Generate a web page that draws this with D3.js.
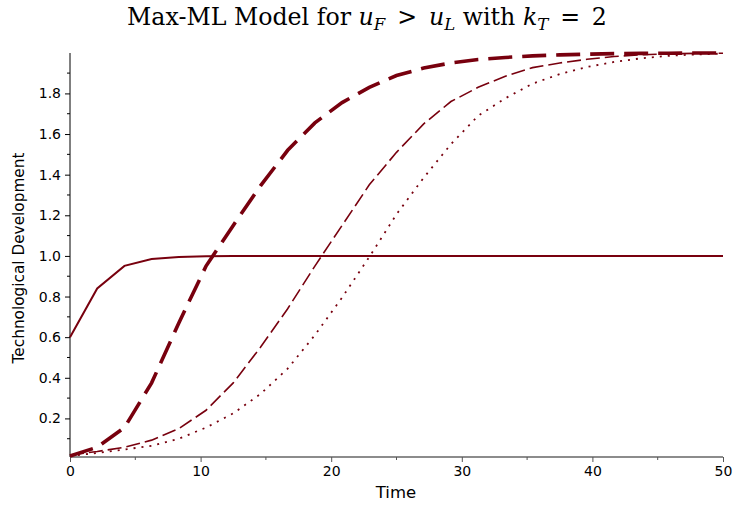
<!DOCTYPE html>
<html><head><meta charset="utf-8">
<script src="https://cdn.jsdelivr.net/npm/d3@7"></script>
<style>body{margin:0;background:#fff;} svg{display:block;}</style>
</head><body>
<svg id="c" width="735" height="505"></svg>
<script>
const times = [0, 2.083, 4.167, 6.25, 8.333, 10.417, 12.5, 14.583, 16.667, 18.75, 20.833, 22.917, 25, 27.083, 29.167, 31.25, 33.333, 35.417, 37.5, 39.583, 41.667, 43.75, 45.833, 47.917, 50];
const solidSeries = [0.6, 0.84, 0.951, 0.985, 0.995, 0.998, 0.9995, 1, 1, 1, 1, 1, 1, 1, 1, 1, 1, 1, 1, 1, 1, 1, 1, 1, 1];
const thickDashSeries = [0.015, 0.058, 0.155, 0.375, 0.67, 0.95, 1.15, 1.345, 1.52, 1.655, 1.755, 1.83, 1.888, 1.925, 1.95, 1.967, 1.977, 1.985, 1.99, 1.993, 1.996, 1.997, 1.998, 1.999, 1.999];
const dashSeries = [0.02, 0.037, 0.058, 0.093, 0.15, 0.24, 0.375, 0.55, 0.74, 0.95, 1.15, 1.35, 1.51, 1.65, 1.76, 1.83, 1.885, 1.927, 1.95, 1.968, 1.982, 1.99, 1.995, 1.997, 1.998];
const dotSeries = [0.015, 0.03, 0.047, 0.065, 0.10, 0.155, 0.225, 0.32, 0.445, 0.61, 0.795, 0.995, 1.205, 1.385, 1.55, 1.69, 1.776, 1.848, 1.895, 1.93, 1.955, 1.973, 1.985, 1.992, 1.996];
const xMajorTicks = [0, 10, 20, 30, 40, 50];
const xMinorTicks = [5, 15, 25, 35, 45];
const yMajorTicks = [0.2, 0.4, 0.6, 0.8, 1.0, 1.2, 1.4, 1.6, 1.8];
const yMinorTicks = [0.1, 0.3, 0.5, 0.7, 0.9, 1.1, 1.3, 1.5, 1.7, 1.9];

const color = "#78000E";
const svg = d3.select("#c");
const x = d3.scaleLinear().domain([0, 50]).range([70, 723]);
const y = d3.scaleLinear().domain([0.01, 1.999]).range([457, 53]);

// title
const title = svg.append("text").attr("x", 367).attr("y", 25)
  .attr("text-anchor", "middle")
  .style("font-family", "'DejaVu Serif', 'Liberation Serif', serif")
  .style("font-size", "20px").style("fill", "#000");
const parts = [
  ["Max-ML Model for ", "normal", 0],
  ["u", "italic", 0], ["F", "italic", 1],
  ["\u2002>\u2002", "normal", -1],
  ["u", "italic", 0], ["L", "italic", 1],
  [" with ", "normal", -1],
  ["k", "italic", 0], ["T", "italic", 1],
  ["\u2002=\u20022", "normal", -1]
];
parts.forEach(p => {
  const t = title.append("tspan").text(p[0]).style("font-style", p[1]);
  if (p[2] === 1) t.attr("dy", 5).style("font-size", "0.7em");
  if (p[2] === -1) t.attr("dy", -5);
});
const tw = title.node().getComputedTextLength();
title.style("font-size", (20 * 480 / tw).toFixed(2) + "px");

// axes
const gx = svg.append("g").attr("transform", "translate(0,457)");
gx.call(d3.axisBottom(x).tickValues(xMajorTicks).tickSize(5).tickPadding(4).tickFormat(d3.format("d")));
gx.append("g").selectAll("line").data(xMinorTicks).join("line")
  .attr("x1", d => x(d)).attr("x2", d => x(d)).attr("y1", 0).attr("y2", 3)
  .attr("stroke", "#555");
gx.select(".domain").attr("stroke", "#666").attr("stroke-width", 1.6).attr("d", `M70,0H723`);
gx.selectAll(".tick line").attr("stroke", "#555");

const gy = svg.append("g").attr("transform", "translate(70,0)");
gy.call(d3.axisLeft(y).tickValues(yMajorTicks).tickSize(5).tickPadding(4).tickFormat(d3.format(".1f")));
gy.append("g").selectAll("line").data(yMinorTicks).join("line")
  .attr("y1", d => y(d)).attr("y2", d => y(d)).attr("x1", 0).attr("x2", -3)
  .attr("stroke", "#000");
gy.select(".domain").attr("stroke", "#000").attr("d", `M0,53V457`);

svg.selectAll(".tick text").style("font-family", "'DejaVu Sans', sans-serif").style("font-size", "14px").style("fill", "#000");

svg.append("text").attr("x", 396).attr("y", 498).attr("text-anchor", "middle")
  .style("font-family", "'DejaVu Sans', sans-serif").style("font-size", "16.5px").text("Time");
svg.append("text").attr("transform", "translate(24,258) rotate(-90)").attr("text-anchor", "middle")
  .style("font-family", "'DejaVu Sans', sans-serif").style("font-size", "15.3px").text("Technological Development");

// lines
const line = d3.line().x((d, i) => x(times[i])).y(d => y(d));
const styles = [
  [dotSeries, 1.8, "2 6"],
  [dashSeries, 1.6, "14 5"],
  [thickDashSeries, 3.6, "24 10"],
  [solidSeries, 2, null]
];
styles.forEach(s => {
  const p = svg.append("path").datum(s[0]).attr("d", line)
    .attr("fill", "none").attr("stroke", color).attr("stroke-width", s[1]);
  if (s[2]) p.attr("stroke-dasharray", s[2]);
});
</script>
</body></html>
